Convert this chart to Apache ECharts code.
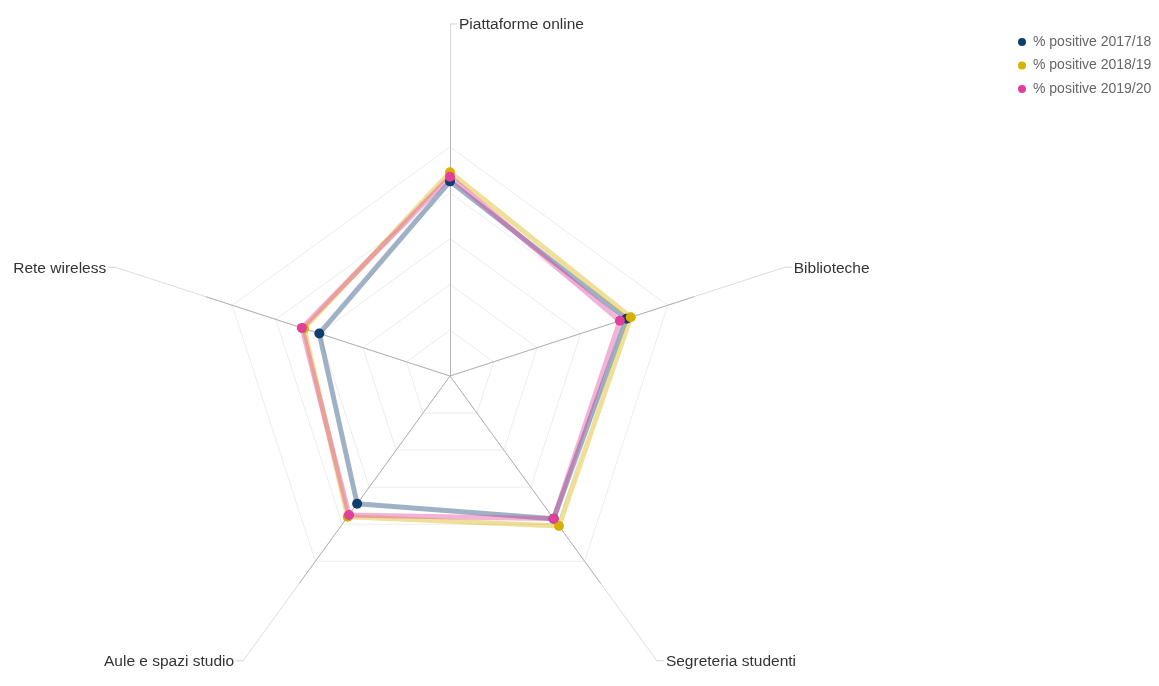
<!DOCTYPE html>
<html>
<head>
<meta charset="utf-8">
<script src="https://cdn.jsdelivr.net/npm/echarts@6/dist/echarts.min.js"></script>
<style>html,body{margin:0;padding:0;background:#fff}#c{width:1159px;height:686px}</style>
</head>
<body>
<div id="c"></div>
<script>
// Data (order follows ECharts radar: top, then counter-clockwise)
const indicators = ['Piattaforme online', 'Rete wireless', 'Aule e spazi studio', 'Segreteria studenti', 'Biblioteche'];
const seriesNames = ['% positive 2017/18', '% positive 2018/19', '% positive 2019/20'];
const values2017 = [85, 60, 69, 77, 81];
const values2018 = [89, 67, 76, 81, 83];
const values2019 = [87, 68, 75, 77, 78];
const maxValue = 100;

const colors = ['#0f3d6e', '#d8b000', '#e03f9b'];
const CX = 450, CY = 376, R_AXIS = 352, R_DARK = 256, R_GRID = 229;
const FONT = '"Liberation Sans", Arial, sans-serif';

const chart = echarts.init(document.getElementById('c'), null, {renderer: 'canvas'});
const ind = indicators.map(n => ({name: n, max: maxValue}));
const baseRadar = {
  center: [CX, CY], indicator: ind, shape: 'polygon', startAngle: 90,
  axisName: {show: false}, axisTick: {show: false}, axisLabel: {show: false},
  splitArea: {show: false}
};

// Labels and leader lines computed from the axis geometry
const graphics = [];
indicators.forEach((name, i) => {
  const a = (90 + i * 72) * Math.PI / 180;
  const ex = CX + R_AXIS * Math.cos(a), ey = CY - R_AXIS * Math.sin(a);
  const dir = Math.cos(a) < -0.1 ? -1 : 1;
  graphics.push({type: 'line', shape: {x1: ex, y1: ey, x2: ex + dir * 7, y2: ey},
    style: {stroke: '#d4d4d4', lineWidth: 1}, silent: true});
  graphics.push({type: 'text', x: ex + dir * 9, y: ey + 1,
    style: {text: name, fill: '#333', fontSize: 15.5, fontFamily: FONT,
      align: dir > 0 ? 'left' : 'right', verticalAlign: 'middle'}, silent: true});
});

const mkSeries = (name, data, color) => ({
  type: 'radar', name: name, radarIndex: 2,
  symbol: 'circle', symbolSize: 10,
  itemStyle: {color: color},
  lineStyle: {color: color, width: 5, opacity: 0.4},
  emphasis: {disabled: true},
  data: [{value: data, name: name}]
});

chart.setOption({
  animation: false,
  color: colors,
  legend: {
    orient: 'vertical', left: 1013, top: 30,
    icon: 'circle', itemWidth: 12, itemHeight: 8, itemGap: 9.5,
    textStyle: {color: '#666', fontSize: 14, fontFamily: FONT},
    data: seriesNames
  },
  radar: [
    Object.assign({}, baseRadar, {radius: R_AXIS, axisLine: {lineStyle: {color: '#dcdcdc', width: 1}}, splitLine: {show: false}}),
    Object.assign({}, baseRadar, {radius: R_DARK, axisLine: {lineStyle: {color: '#b4b4b4', width: 1}}, splitLine: {show: false}}),
    Object.assign({}, baseRadar, {radius: R_GRID, splitNumber: 5, axisLine: {show: false},
      splitLine: {lineStyle: {color: '#ececec', width: 1}}})
  ],
  graphic: graphics,
  series: [
    mkSeries(seriesNames[0], values2017, colors[0]),
    mkSeries(seriesNames[1], values2018, colors[1]),
    mkSeries(seriesNames[2], values2019, colors[2])
  ]
});
</script>
</body>
</html>
